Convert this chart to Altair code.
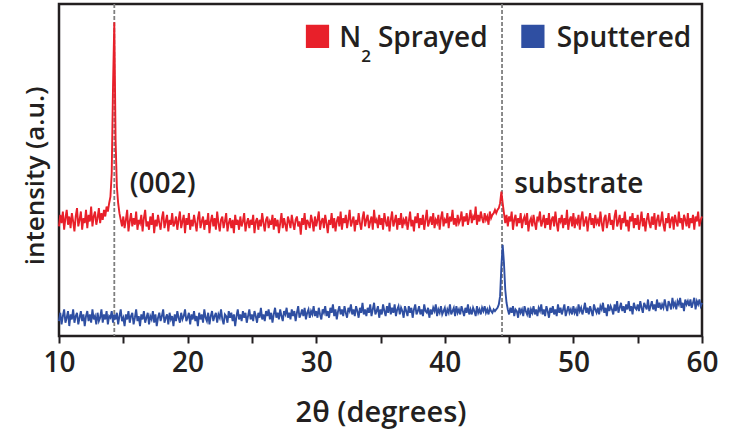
import altair as alt
import pandas as pd

# 2-theta grid start/step (degrees) and intensities (arbitrary units)
two_theta_start = 10.0
two_theta_step = 0.1

n2_sprayed = [
    66, 73, 68, 75, 64, 71, 76, 67, 72, 65,
    74, 69, 63, 72, 77, 66, 70, 75, 64, 71,
    68, 76, 65, 73, 69, 78, 66, 72, 75, 67,
    71, 77, 68, 74, 70, 76, 72, 78, 75, 80,
    84, 98, 150, 189, 118, 90, 80, 74, 70, 66,
    72, 65, 70, 76, 63, 69, 74, 66, 71, 67,
    75, 64, 70, 68, 73, 63, 71, 76, 66, 69,
    64, 72, 67, 74, 62, 70, 66, 73, 68, 64,
    71, 75, 65, 69, 73, 63, 70, 67, 74, 66,
    68, 72, 64, 70, 75, 65, 69, 73, 62, 71,
    67, 74, 64, 70, 66, 73, 68, 63, 71, 75,
    65, 69, 72, 64, 70, 67, 74, 62, 69, 73,
    66, 71, 64, 75, 68, 63, 70, 72, 65, 69,
    74, 63, 68, 71, 65, 70, 62, 73, 67, 70,
    64, 72, 66, 69, 74, 63, 68, 71, 65, 70,
    67, 73, 62, 69, 71, 64, 70, 66, 74, 68,
    63, 70, 72, 65, 69, 67, 73, 64, 71, 66,
    70, 62, 68, 74, 65, 71, 67, 63, 72, 69,
    65, 73, 68, 64, 70, 72, 66, 69, 61, 71,
    67, 74, 64, 70, 68, 65, 73, 69, 63, 72,
    66, 70, 75, 64, 69, 71, 65, 73, 68, 62,
    70, 67, 74, 65, 71, 63, 69, 72, 66, 75,
    64, 71, 68, 73, 65, 70, 76, 66, 69, 72,
    63, 70, 67, 74, 68, 64, 71, 75, 66, 70,
    73, 65, 69, 72, 64, 76, 68, 70, 65, 73,
    67, 71, 64, 74, 69, 66, 72, 63, 70, 75,
    66, 69, 73, 64, 71, 67, 74, 65, 70, 68,
    72, 64, 69, 75, 66, 70, 63, 72, 68, 74,
    65, 71, 67, 73, 64, 70, 76, 66, 69, 72,
    67, 74, 65, 70, 68, 73, 64, 71, 75, 66,
    70, 68, 74, 65, 72, 69, 76, 67, 71, 66,
    73, 68, 70, 75, 66, 72, 69, 74, 67, 71,
    76, 68, 72, 70, 78, 67, 73, 69, 75, 71,
    68, 74, 70, 72, 67, 75, 71, 73, 74, 76,
    74, 76, 77, 80, 87, 80, 74, 68, 73, 66,
    72, 69, 75, 64, 70, 73, 66, 71, 68, 74,
    65, 70, 72, 67, 74, 63, 69, 71, 66, 73,
    68, 64, 72, 70, 75, 66, 69, 73, 65, 71,
    67, 74, 64, 70, 72, 66, 75, 68, 63, 71,
    69, 73, 65, 71, 67, 76, 64, 70, 72, 66,
    74, 65, 70, 68, 73, 64, 71, 75, 66, 69,
    72, 63, 70, 74, 67, 71, 65, 73, 68, 70,
    66, 75, 68, 63, 71, 73, 65, 69, 74, 67,
    70, 64, 72, 76, 66, 69, 73, 64, 71, 68,
    75, 66, 70, 63, 72, 69, 74, 65, 71, 67,
    73, 64, 69, 75, 66, 71, 63, 70, 74, 68,
    65, 72, 67, 74, 64, 70, 73, 66, 69, 75,
    67, 63, 71, 68, 74, 65, 70, 72, 64, 73,
    69, 66, 75, 68, 71, 64, 73, 70, 66, 74,
    65, 71, 68, 73, 64, 72, 69, 75, 66, 70,
    72,
]

sputtered = [
    9, 14, 7, 12, 16, 8, 11, 15, 6, 13,
    10, 16, 8, 12, 14, 7, 11, 15, 9, 13,
    6, 12, 15, 9, 13, 8, 16, 10, 12, 7,
    14, 9, 11, 16, 8, 13, 10, 15, 7, 12,
    11, 15, 8, 13, 10, 14, 7, 12, 16, 9,
    11, 6, 13, 10, 15, 8, 12, 14, 7, 11,
    16, 9, 12, 6, 13, 10, 15, 8, 11, 14,
    7, 12, 10, 15, 8, 13, 6, 11, 14, 9,
    12, 16, 8, 11, 13, 7, 14, 10, 12, 6,
    13, 9, 15, 11, 8, 14, 10, 12, 16, 9,
    11, 14, 7, 13, 10, 15, 9, 12, 6, 14,
    10, 13, 8, 16, 11, 9, 14, 7, 12, 15,
    9, 12, 14, 8, 13, 11, 16, 10, 7, 13,
    12, 8, 15, 11, 14, 9, 13, 6, 12, 16,
    10, 13, 9, 15, 11, 14, 8, 12, 16, 10,
    13, 9, 15, 12, 8, 14, 11, 17, 10, 13,
    9, 15, 12, 16, 10, 14, 8, 13, 17, 11,
    14, 10, 16, 12, 9, 15, 13, 17, 11, 14,
    10, 16, 12, 15, 9, 14, 18, 11, 13, 16,
    12, 17, 10, 14, 16, 11, 15, 13, 18, 12,
    15, 11, 17, 13, 10, 16, 14, 18, 12, 15,
    11, 17, 14, 19, 12, 16, 10, 15, 18, 13,
    16, 12, 18, 14, 11, 17, 15, 19, 13, 16,
    12, 18, 15, 11, 17, 14, 20, 13, 16, 12,
    17, 14, 19, 12, 16, 20, 13, 15, 18, 11,
    16, 13, 19, 15, 12, 18, 14, 20, 13, 17,
    14, 19, 12, 16, 18, 13, 17, 15, 11, 18,
    15, 12, 18, 14, 17, 11, 16, 19, 13, 15,
    18, 13, 16, 12, 19, 15, 14, 17, 11, 16,
    13, 17, 15, 19, 12, 16, 14, 18, 13, 15,
    17, 12, 16, 14, 19, 13, 15, 17, 12, 18,
    14, 16, 13, 18, 15, 12, 17, 14, 19, 13,
    16, 13, 17, 15, 12, 18, 14, 16, 13, 17,
    15, 18, 14, 16, 13, 17, 15, 14, 16, 15,
    16, 17, 19, 24, 42, 55, 44, 28, 20, 16,
    13, 17, 14, 18, 12, 16, 15, 11, 17, 14,
    16, 12, 18, 15, 13, 17, 11, 16, 14, 18,
    13, 16, 12, 17, 15, 19, 13, 16, 12, 18,
    15, 11, 17, 14, 18, 13, 16, 12, 19, 14,
    17, 13, 16, 19, 12, 15, 18, 14, 16, 13,
    18, 14, 16, 12, 19, 15, 17, 13, 16, 20,
    14, 17, 13, 18, 15, 12, 19, 16, 14, 17,
    13, 18, 16, 20, 14, 17, 12, 19, 15, 18,
    16, 13, 19, 15, 21, 14, 17, 20, 15, 18,
    14, 19, 16, 21, 15, 18, 13, 20, 17, 16,
    19, 15, 21, 17, 14, 20, 18, 16, 22, 15,
    18, 21, 16, 19, 15, 22, 17, 20, 16, 19,
    17, 22, 18, 15, 21, 19, 16, 23, 18, 20,
    16, 21, 19, 23, 17, 20, 15, 22, 19, 21,
    18, 22, 17, 20, 23, 16, 21, 19, 22, 18,
    20,
]

series_names = ["N2 Sprayed", "Sputtered"]
series_colors = ["#e8202a", "#2f4fa2"]
x_ticks = [10, 15, 20, 25, 30, 35, 40, 45, 50, 55, 60]
peak_lines = [14.3, 44.45]
peak_labels = ["(002)", "substrate"]
peak_label_x = [15.5, 45.4]
peak_label_y = [86, 86]

INK = "#231f20"
FONT = "Open Sans"

rows = []
for name, vals in zip(series_names, [n2_sprayed, sputtered]):
    for i, v in enumerate(vals):
        rows.append({"tt": round(two_theta_start + two_theta_step * i, 2),
                     "I": v, "series": name})
df = pd.DataFrame(rows)

xs = alt.Scale(domain=[10, 60], nice=False, zero=False)
ys = alt.Scale(domain=[0, 200], nice=False, zero=False)

lines = alt.Chart(df).mark_line(strokeWidth=1.9, strokeJoin="miter").encode(
    x=alt.X("tt:Q", scale=xs, title="2θ (degrees)",
            axis=alt.Axis(values=x_ticks,
                          labelExpr="datum.value % 10 == 0 ? datum.label : ''",
                          grid=False, domain=False, tickSize=7, tickWidth=2,
                          tickColor=INK, labelFontSize=28, labelFont=FONT,
                          labelFontWeight=600, labelColor=INK, labelPadding=6,
                          labelFlush=False,
                          titleFontSize=29, titleFont=FONT, titleFontWeight=600,
                          titleColor=INK, titlePadding=21)),
    y=alt.Y("I:Q", scale=ys, axis=None),
    color=alt.Color("series:N", scale=alt.Scale(domain=series_names, range=series_colors),
                    legend=None),
    detail="series:N",
)

rules = alt.Chart(pd.DataFrame({"x": peak_lines})).mark_rule(
    color="#7f7f7f", strokeDash=[4, 2], strokeWidth=1.8
).encode(x=alt.X("x:Q", scale=xs))

ann = alt.Chart(pd.DataFrame({"x": peak_label_x, "y": peak_label_y, "t": peak_labels})).mark_text(
    align="left", baseline="alphabetic", fontSize=28, font=FONT, fontWeight=600, color=INK
).encode(x=alt.X("x:Q", scale=xs), y=alt.Y("y:Q", scale=ys), text="t:N")

# legend drawn inside the plot
leg_sq = alt.Chart(pd.DataFrame({"x": [30.1, 46.85], "y": [180.5, 180.5],
                                 "series": series_names})).mark_square(
    size=540, opacity=1
).encode(x=alt.X("x:Q", scale=xs), y=alt.Y("y:Q", scale=ys),
         color=alt.Color("series:N", scale=alt.Scale(domain=series_names, range=series_colors),
                         legend=None))

leg_txt = alt.Chart(pd.DataFrame({"x": [31.8, 34.8, 48.7], "y": [174, 174, 174],
                                  "t": ["N", "Sprayed", "Sputtered"]})).mark_text(
    align="left", baseline="alphabetic", fontSize=28, font=FONT, fontWeight=600, color=INK
).encode(x=alt.X("x:Q", scale=xs), y=alt.Y("y:Q", scale=ys), text="t:N")

leg_sub = alt.Chart(pd.DataFrame({"x": [33.5], "y": [165], "t": ["2"]})).mark_text(
    align="left", baseline="alphabetic", fontSize=17, font=FONT, fontWeight=600, color=INK
).encode(x=alt.X("x:Q", scale=xs), y=alt.Y("y:Q", scale=ys), text="t:N")

ytitle = alt.Chart(pd.DataFrame({"t": ["intensity (a.u.)"]})).mark_text(
    angle=270, align="center", baseline="middle", fontSize=26, font=FONT,
    fontWeight=600, color=INK
).encode(x=alt.value(-23), y=alt.value(172), text="t:N")

chart = alt.layer(rules, lines, ann, leg_sq, leg_txt, leg_sub, ytitle).properties(
    width=643, height=332,
    autosize=alt.AutoSizeParams(type="none"),
    padding={"left": 59, "top": 4, "right": 31, "bottom": 95},
    background="white",
).configure_view(stroke=INK, strokeWidth=2.5)

chart.save("out.html", embed_options={"renderer": "svg", "actions": False})
